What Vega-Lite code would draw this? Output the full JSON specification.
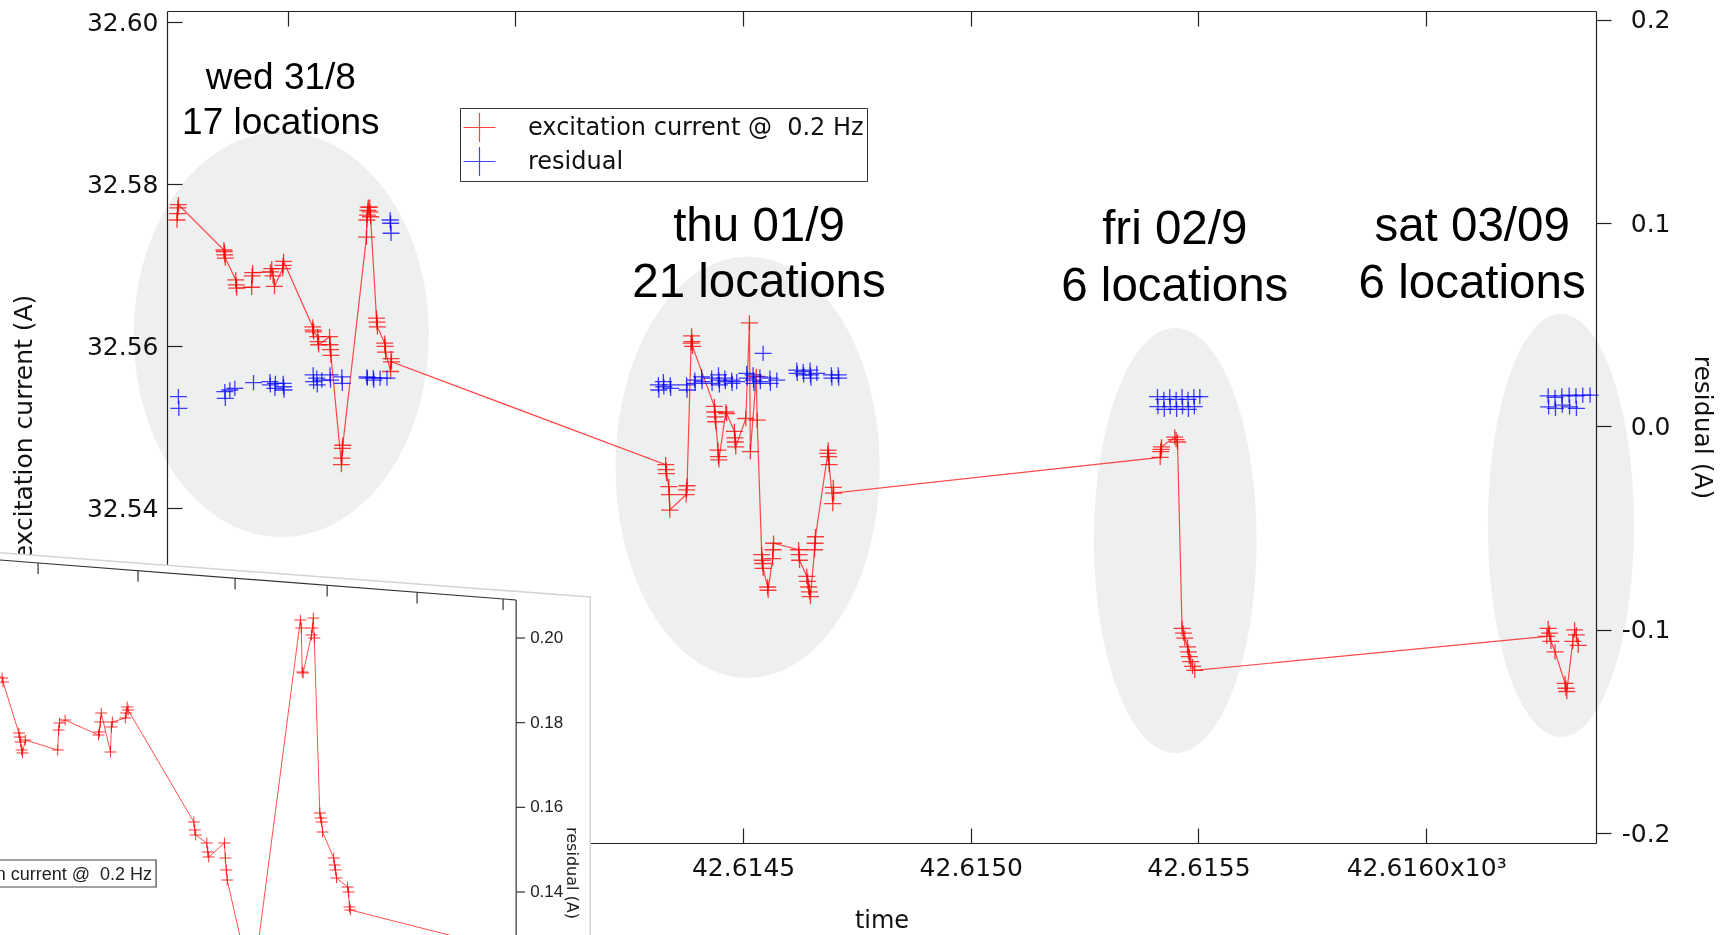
{
  "$schema": "https://vega.github.io/schema/vega-lite/v6.json",
  "width": 1429,
  "height": 832,
  "autosize": {"type": "none"},
  "padding": {"left": 167, "top": 11, "right": 124, "bottom": 92},
  "background": "white",
  "config": {
    "view": {"stroke": null},
    "axis": {"grid": false, "domainColor": "#222", "tickColor": "#222", "domainWidth": 1.2, "tickWidth": 1.2, "labelColor": "#111", "titleColor": "#111", "labelFont": "DejaVu Sans", "titleFont": "DejaVu Sans", "labelFontSize": 25, "titleFontSize": 25, "titleFontWeight": "normal", "labelOverlap": false, "labelFlush": false, "labelBound": false}
  },
  "datasets": {
    "ell": [
      {"t": 42.613486, "cur": 32.56147, "day": "wed"},
      {"t": 42.614510, "cur": 32.54507, "day": "thu"},
      {"t": 42.615449, "cur": 32.53604, "day": "fri"},
      {"t": 42.616296, "cur": 32.53789, "day": "sat"}
    ],
    "notes": [
      {"t": 42.613485, "cur": 32.59312, "txt": "wed 31/8", "day": "wed"},
      {"t": 42.613485, "cur": 32.58757, "txt": "17 locations", "day": "wed"},
      {"t": 42.614535, "cur": 32.57477, "txt": "thu 01/9", "day": "thu"},
      {"t": 42.614535, "cur": 32.56779, "txt": "21 locations", "day": "thu"},
      {"t": 42.615448, "cur": 32.57440, "txt": "fri 02/9", "day": "fri"},
      {"t": 42.615448, "cur": 32.56730, "txt": "6 locations", "day": "fri"},
      {"t": 42.616101, "cur": 32.57477, "txt": "sat 03/09", "day": "sat"},
      {"t": 42.616101, "cur": 32.56773, "txt": "6 locations", "day": "sat"}
    ],
    "red": [
      {"t":42.613257,"cur":32.5756},{"t":42.613258,"cur":32.5764},{"t":42.613259,"cur":32.5771},{"t":42.613260,"cur":32.5775},
      {"t":42.613360,"cur":32.5719},{"t":42.613361,"cur":32.5717},{"t":42.613362,"cur":32.5713},{"t":42.613363,"cur":32.5709},
      {"t":42.613386,"cur":32.5682},{"t":42.613387,"cur":32.5676},{"t":42.613388,"cur":32.5672},
      {"t":42.613421,"cur":32.5673},{"t":42.613422,"cur":32.5687},{"t":42.613423,"cur":32.5691},
      {"t":42.613462,"cur":32.5692},{"t":42.613465,"cur":32.5696},{"t":42.613468,"cur":32.5687},{"t":42.613471,"cur":32.5674},
      {"t":42.613489,"cur":32.5696},{"t":42.613490,"cur":32.5700},{"t":42.613491,"cur":32.5705},
      {"t":42.613555,"cur":32.5624},{"t":42.613556,"cur":32.5620},{"t":42.613557,"cur":32.5618},
      {"t":42.613566,"cur":32.5612},{"t":42.613567,"cur":32.5606},{"t":42.613568,"cur":32.5602},
      {"t":42.613592,"cur":32.5612},{"t":42.613593,"cur":32.5602},{"t":42.613594,"cur":32.5596},{"t":42.613595,"cur":32.5589},
      {"t":42.613618,"cur":32.5454},{"t":42.613619,"cur":32.5462},{"t":42.613620,"cur":32.5474},{"t":42.613621,"cur":32.5478},
      {"t":42.613673,"cur":32.5735},{"t":42.613674,"cur":32.5756},{"t":42.613675,"cur":32.5762},{"t":42.613676,"cur":32.5768},{"t":42.613677,"cur":32.5772},
      {"t":42.613680,"cur":32.5772},{"t":42.613681,"cur":32.5766},{"t":42.613682,"cur":32.5760},
      {"t":42.613695,"cur":32.5635},{"t":42.613696,"cur":32.5630},{"t":42.613697,"cur":32.5624},
      {"t":42.613713,"cur":32.5604},{"t":42.613714,"cur":32.5600},{"t":42.613715,"cur":32.5593},
      {"t":42.613726,"cur":32.5569},{"t":42.613727,"cur":32.5585},{"t":42.613728,"cur":32.5581},
      {"t":42.614330,"cur":32.5454},{"t":42.614331,"cur":32.5448},{"t":42.614332,"cur":32.5443},
      {"t":42.614337,"cur":32.5427},{"t":42.614338,"cur":32.5417},{"t":42.614339,"cur":32.5398},
      {"t":42.614375,"cur":32.5417},{"t":42.614376,"cur":32.5423},{"t":42.614377,"cur":32.5428},
      {"t":42.614386,"cur":32.5604},{"t":42.614387,"cur":32.5613},{"t":42.614388,"cur":32.5606},{"t":42.614389,"cur":32.5600},
      {"t":42.614437,"cur":32.5526},{"t":42.614438,"cur":32.5519},{"t":42.614439,"cur":32.5513},{"t":42.614440,"cur":32.5507},
      {"t":42.614445,"cur":32.5472},{"t":42.614446,"cur":32.5464},{"t":42.614447,"cur":32.5460},
      {"t":42.614462,"cur":32.5519},{"t":42.614464,"cur":32.5517},
      {"t":42.614481,"cur":32.5495},{"t":42.614482,"cur":32.5487},{"t":42.614483,"cur":32.5482},{"t":42.614484,"cur":32.5476},
      {"t":42.614506,"cur":32.5511},{"t":42.614514,"cur":32.5629},{"t":42.614516,"cur":32.5470},
      {"t":42.614529,"cur":32.5563},{"t":42.614531,"cur":32.5509},
      {"t":42.614541,"cur":32.5343},{"t":42.614542,"cur":32.5336},{"t":42.614543,"cur":32.5332},{"t":42.614544,"cur":32.5326},
      {"t":42.614554,"cur":32.5303},{"t":42.614555,"cur":32.5299},
      {"t":42.614565,"cur":32.5338},{"t":42.614566,"cur":32.5349},{"t":42.614567,"cur":32.5357},
      {"t":42.614622,"cur":32.5349},{"t":42.614623,"cur":32.5343},{"t":42.614624,"cur":32.5336},
      {"t":42.614640,"cur":32.5316},{"t":42.614642,"cur":32.5310},{"t":42.614644,"cur":32.5303},{"t":42.614646,"cur":32.5297},{"t":42.614648,"cur":32.5291},
      {"t":42.614657,"cur":32.5349},{"t":42.614658,"cur":32.5357},{"t":42.614659,"cur":32.5365},
      {"t":42.614686,"cur":32.5468},{"t":42.614687,"cur":32.5472},{"t":42.614688,"cur":32.5464},{"t":42.614689,"cur":32.5454},
      {"t":42.614697,"cur":32.5406},{"t":42.614698,"cur":32.5426},{"t":42.614699,"cur":32.5419},
      {"t":42.615416,"cur":32.5463},{"t":42.615417,"cur":32.5470},{"t":42.615418,"cur":32.5473},{"t":42.615419,"cur":32.5476},
      {"t":42.615448,"cur":32.5488},{"t":42.615451,"cur":32.5485},{"t":42.615454,"cur":32.5482},
      {"t":42.615464,"cur":32.5252},{"t":42.615467,"cur":32.5246},{"t":42.615470,"cur":32.5240},
      {"t":42.615476,"cur":32.5229},{"t":42.615478,"cur":32.5223},{"t":42.615480,"cur":32.5217},
      {"t":42.615483,"cur":32.5211},{"t":42.615487,"cur":32.5205},{"t":42.615492,"cur":32.5200},
      {"t":42.616265,"cur":32.5242},{"t":42.616268,"cur":32.5252},{"t":42.616271,"cur":32.5246},{"t":42.616274,"cur":32.5236},
      {"t":42.616283,"cur":32.5223},
      {"t":42.616305,"cur":32.5184},{"t":42.616307,"cur":32.5178},{"t":42.616309,"cur":32.5174},
      {"t":42.616322,"cur":32.5236},{"t":42.616326,"cur":32.5250},{"t":42.616330,"cur":32.5244},{"t":42.616334,"cur":32.5231}
    ],
    "blue": [
      {"t":42.613260,"res":0.0146},{"t":42.613261,"res":0.0089},
      {"t":42.613362,"res":0.0171},{"t":42.613363,"res":0.0138},
      {"t":42.613373,"res":0.0179},{"t":42.613384,"res":0.0187},{"t":42.613425,"res":0.0215},
      {"t":42.613461,"res":0.0220},{"t":42.613462,"res":0.0204},
      {"t":42.613472,"res":0.0187},{"t":42.613473,"res":0.0212},
      {"t":42.613490,"res":0.0212},{"t":42.613491,"res":0.0195},{"t":42.613492,"res":0.0179},
      {"t":42.613556,"res":0.0253},{"t":42.613557,"res":0.0220},
      {"t":42.613564,"res":0.0237},{"t":42.613565,"res":0.0204},
      {"t":42.613575,"res":0.0228},
      {"t":42.613593,"res":0.0253},{"t":42.613594,"res":0.0228},
      {"t":42.613619,"res":0.0244},{"t":42.613620,"res":0.0212},
      {"t":42.613674,"res":0.0244},{"t":42.613675,"res":0.0237},
      {"t":42.613688,"res":0.0240},{"t":42.613689,"res":0.0228},
      {"t":42.613703,"res":0.0237},{"t":42.613718,"res":0.0237},
      {"t":42.613725,"res":0.1015},{"t":42.613726,"res":0.0999},{"t":42.613727,"res":0.0950},
      {"t":42.614314,"res":0.0204},{"t":42.614315,"res":0.0179},
      {"t":42.614325,"res":0.0220},{"t":42.614326,"res":0.0195},
      {"t":42.614340,"res":0.0204},{"t":42.614341,"res":0.0187},
      {"t":42.614376,"res":0.0204},{"t":42.614377,"res":0.0179},
      {"t":42.614394,"res":0.0228},{"t":42.614395,"res":0.0212},
      {"t":42.614409,"res":0.0244},{"t":42.614410,"res":0.0220},
      {"t":42.614431,"res":0.0237},{"t":42.614432,"res":0.0212},
      {"t":42.614446,"res":0.0253},{"t":42.614447,"res":0.0228},{"t":42.614448,"res":0.0204},
      {"t":42.614460,"res":0.0237},{"t":42.614461,"res":0.0220},
      {"t":42.614475,"res":0.0228},{"t":42.614476,"res":0.0212},
      {"t":42.614486,"res":0.0220},
      {"t":42.614508,"res":0.0261},{"t":42.614509,"res":0.0237},
      {"t":42.614522,"res":0.0253},{"t":42.614523,"res":0.0228},{"t":42.614524,"res":0.0212},
      {"t":42.614537,"res":0.0244},{"t":42.614538,"res":0.0220},
      {"t":42.614544,"res":0.0359},
      {"t":42.614559,"res":0.0237},{"t":42.614560,"res":0.0212},
      {"t":42.614574,"res":0.0228},
      {"t":42.614618,"res":0.0277},{"t":42.614619,"res":0.0261},
      {"t":42.614632,"res":0.0269},{"t":42.614633,"res":0.0253},
      {"t":42.614647,"res":0.0277},{"t":42.614648,"res":0.0253},{"t":42.614649,"res":0.0237},
      {"t":42.614662,"res":0.0261},
      {"t":42.614694,"res":0.0253},{"t":42.614695,"res":0.0237},
      {"t":42.614709,"res":0.0253},{"t":42.614710,"res":0.0237},
      {"t":42.615410,"res":0.0146},{"t":42.615411,"res":0.0097},
      {"t":42.615424,"res":0.0133},{"t":42.615425,"res":0.0084},
      {"t":42.615437,"res":0.0146},{"t":42.615438,"res":0.0097},
      {"t":42.615451,"res":0.0133},{"t":42.615452,"res":0.0084},
      {"t":42.615464,"res":0.0146},{"t":42.615465,"res":0.0097},
      {"t":42.615477,"res":0.0133},{"t":42.615478,"res":0.0084},
      {"t":42.615490,"res":0.0146},{"t":42.615491,"res":0.0097},
      {"t":42.615503,"res":0.0146},
      {"t":42.616268,"res":0.0150},{"t":42.616269,"res":0.0096},
      {"t":42.616283,"res":0.0143},{"t":42.616284,"res":0.0089},
      {"t":42.616298,"res":0.0150},{"t":42.616299,"res":0.0105},
      {"t":42.616314,"res":0.0154},{"t":42.616315,"res":0.0096},
      {"t":42.616329,"res":0.0150},{"t":42.616330,"res":0.0089},
      {"t":42.616344,"res":0.0154},{"t":42.616360,"res":0.0154}
    ],
    "insRed": [
      {"u":42.613323,"r":0.19717},
      {"u":42.613358,"r":0.19055},{"u":42.613359,"r":0.18961},
      {"u":42.613376,"r":0.17756},{"u":42.613377,"r":0.17661},{"u":42.613378,"r":0.17543},{"u":42.613379,"r":0.17354},{"u":42.613380,"r":0.17284},
      {"u":42.613383,"r":0.17590},
      {"u":42.613418,"r":0.17354},{"u":42.613419,"r":0.17827},{"u":42.613420,"r":0.17992},
      {"u":42.613426,"r":0.18063},
      {"u":42.613462,"r":0.17709},{"u":42.613463,"r":0.17780},{"u":42.613464,"r":0.18016},{"u":42.613465,"r":0.18228},
      {"u":42.613475,"r":0.17307},{"u":42.613476,"r":0.17898},{"u":42.613477,"r":0.18016},
      {"u":42.613491,"r":0.18110},{"u":42.613492,"r":0.18228},{"u":42.613493,"r":0.18370},{"u":42.613494,"r":0.18299},
      {"u":42.613565,"r":0.15654},{"u":42.613566,"r":0.15465},{"u":42.613567,"r":0.15346},
      {"u":42.613579,"r":0.15157},{"u":42.613580,"r":0.14945},{"u":42.613581,"r":0.14827},
      {"u":42.613598,"r":0.15157},{"u":42.613599,"r":0.14803},{"u":42.613600,"r":0.14520},{"u":42.613601,"r":0.14283},
      {"u":42.613628,"r":0.11685},
      {"u":42.613680,"r":0.20425},{"u":42.613681,"r":0.20236},{"u":42.613682,"r":0.19197},{"u":42.613683,"r":0.19173},
      {"u":42.613692,"r":0.20071},{"u":42.613693,"r":0.20236},{"u":42.613694,"r":0.20472},{"u":42.613695,"r":0.20000},
      {"u":42.613701,"r":0.15866},{"u":42.613702,"r":0.15748},{"u":42.613703,"r":0.15654},{"u":42.613704,"r":0.15417},
      {"u":42.613716,"r":0.14803},{"u":42.613717,"r":0.14638},{"u":42.613718,"r":0.14520},{"u":42.613719,"r":0.14331},
      {"u":42.613731,"r":0.14118},{"u":42.613732,"r":0.14000},{"u":42.613733,"r":0.13646},{"u":42.613734,"r":0.13575},
      {"u":42.613917,"r":0.12559}
    ],
    "insArea": [
      {"u": 42.613345, "rt": 0.22031, "rb": 0.12394},
      {"u": 42.613993, "rt": 0.20969, "rb": 0.12394}
    ],
    "insRules": [
      {"u": 42.613345, "r": 0.21861, "u2": 42.613913, "r2": 0.20898},
      {"u": 42.613913, "r": 0.20898, "u2": 42.613913, "r2": 0.12394},
      {"u": 42.6133968, "r": 0.21772, "u2": 42.6133968, "r2": 0.21512},
      {"u": 42.6135047, "r": 0.21590, "u2": 42.6135047, "r2": 0.21330},
      {"u": 42.6136095, "r": 0.21410, "u2": 42.6136095, "r2": 0.21150},
      {"u": 42.6137089, "r": 0.21243, "u2": 42.6137089, "r2": 0.20983},
      {"u": 42.6138060, "r": 0.21077, "u2": 42.6138060, "r2": 0.20817},
      {"u": 42.6138989, "r": 0.20919, "u2": 42.6138989, "r2": 0.20659},
      {"u": 42.613913, "r": 0.20, "u2": 42.6139227, "r2": 0.20},
      {"u": 42.613913, "r": 0.18, "u2": 42.6139227, "r2": 0.18},
      {"u": 42.613913, "r": 0.16, "u2": 42.6139227, "r2": 0.16},
      {"u": 42.613913, "r": 0.14, "u2": 42.6139227, "r2": 0.14}
    ],
    "insLabels": [
      {"u": 42.6139281, "r": 0.20, "txt": "0.20"},
      {"u": 42.6139281, "r": 0.18, "txt": "0.18"},
      {"u": 42.6139281, "r": 0.16, "txt": "0.16"},
      {"u": 42.6139281, "r": 0.14, "txt": "0.14"}
    ],
    "insTitle": [{"u": 42.6139735, "r": 0.14449, "txt": "residual (A)"}],
    "insBox": [{"u": 42.613345, "u2": 42.6135242, "r": 0.14756, "r2": 0.14118}],
    "insLeg": [{"u": 42.6135199, "r": 0.14402, "txt": "excitation current @\u00a0 0.2 Hz"}]
  },
  "layer": [
    {
      "encoding": {
        "x": {"field": "t", "type": "quantitative", "scale": {"domain": [42.613235, 42.616373], "nice": false, "zero": false},
          "axis": {"orient": "bottom", "values": [42.6135, 42.614, 42.6145, 42.615, 42.6155, 42.616], "format": ".4f",
            "labelExpr": "datum.value > 42.6159 ? datum.label + 'x10³' : datum.label",
            "tickSize": -15, "labelPadding": 27, "title": "time", "titleFontSize": 24, "titlePadding": 28}}
      },
      "layer": [
        {
          "encoding": {
            "y": {"field": "cur", "type": "quantitative", "scale": {"domain": [32.4987, 32.6014], "nice": false, "zero": false},
              "axis": {"orient": "left", "values": [32.50, 32.52, 32.54, 32.56, 32.58, 32.60], "format": ".2f", "tickSize": -15, "labelPadding": 24, "title": "excitation current (A)", "titlePadding": 50}}
          },
          "layer": [
            {
              "data": {"name": "ell"},
              "mark": {"type": "point", "filled": true, "fill": "#eeefef", "opacity": 1, "size": 4, "strokeWidth": 0, "blend": "multiply"},
              "encoding": {
                "shape": {"field": "day", "type": "nominal", "legend": null,
                  "scale": {"domain": ["wed", "thu", "fri", "sat"],
                    "range": [
                      "M0,-202.5A147.5,202.5 0 1,1 0,202.5A147.5,202.5 0 1,1 0,-202.5Z",
                      "M0,-210.5A132,210.5 0 1,1 0,210.5A132,210.5 0 1,1 0,-210.5Z",
                      "M0,-212.5A81.3,212.5 0 1,1 0,212.5A81.3,212.5 0 1,1 0,-212.5Z",
                      "M0,-211.5A73,211.5 0 1,1 0,211.5A73,211.5 0 1,1 0,-211.5Z"
                    ]}}
              }
            },
            {
              "data": {"name": "red"},
              "mark": {"type": "line", "color": "#ff2a2a", "strokeWidth": 1.2, "opacity": 0.85}
            },
            {
              "data": {"name": "red"},
              "mark": {"type": "point", "shape": "M-1,0H1M0,-0.9V0.9", "filled": false, "size": 289, "strokeWidth": 1.3, "opacity": 0.75},
              "encoding": {
                "color": {"datum": "excitation current @\u00a0 0.2 Hz",
                  "scale": {"domain": ["excitation current @\u00a0 0.2 Hz", "residual"], "range": ["#ff0000", "#0000ff"]},
                  "legend": {"orient": "none", "legendX": 293, "legendY": 97, "title": null,
                    "fillColor": "white", "strokeColor": "#333", "cornerRadius": 0, "padding": 2.5,
                    "labelFont": "DejaVu Sans", "labelFontSize": 24, "labelColor": "#111", "labelOffset": 31.5, "labelLimit": 0,
                    "symbolSize": 1024, "symbolStrokeWidth": 1.2, "rowPadding": 0,
                    "encode": {"symbols": {
                      "shape": {"value": {"expr": "datum.value === 'residual' ? 'M-1,0L-1,0M1,0L1,0M-0.53,0H0.53M0,-0.53V0.53' : 'M-1,0H1M0,-0.47V0.47'"}},
                      "size": {"value": 1024}, "opacity": {"value": 1}, "strokeWidth": {"value": 1.2}}}}}
              }
            },
            {
              "data": {"name": "notes"},
              "transform": [{"filter": "datum.day === 'wed'"}],
              "mark": {"type": "text", "font": "Liberation Sans", "fontSize": 37, "align": "center", "baseline": "middle", "color": "black"},
              "encoding": {"text": {"field": "txt"}}
            },
            {
              "data": {"name": "notes"},
              "transform": [{"filter": "datum.day !== 'wed'"}],
              "mark": {"type": "text", "font": "Liberation Sans", "fontSize": 47.5, "align": "center", "baseline": "middle", "color": "black"},
              "encoding": {"text": {"field": "txt"}}
            }
          ]
        },
        {
          "data": {"name": "blue"},
          "mark": {"type": "point", "shape": "M-1,0H1M0,-0.9V0.9", "filled": false, "size": 289, "strokeWidth": 1.3, "opacity": 0.75},
          "encoding": {
            "y": {"field": "res", "type": "quantitative", "scale": {"domain": [-0.2049, 0.2043], "nice": false, "zero": false},
              "axis": {"orient": "right", "values": [-0.2, -0.1, 0, 0.1, 0.2], "format": ".1f", "labelExpr": "replace(datum.label, '−', '-')",
                "tickSize": 15, "labelPadding": 59, "labelAlign": "right", "title": "residual (A)", "titlePadding": 19}},
            "color": {"datum": "residual"}
          }
        }
      ],
      "resolve": {"scale": {"y": "independent"}}
    },
    {
      "data": {"name": "red"},
      "mark": {"type": "point", "opacity": 0},
      "encoding": {
        "x": {"field": "t", "type": "quantitative", "scale": {"domain": [42.613235, 42.616373], "nice": false, "zero": false},
          "axis": {"orient": "top", "values": [42.6135, 42.614, 42.6145, 42.615, 42.6155, 42.616], "labels": false, "tickSize": -15, "title": null}}
      }
    },
    {
      "encoding": {
        "x": {"field": "u", "type": "quantitative", "scale": {"domain": [42.613536, 42.615079], "nice": false, "zero": false}, "axis": null}
      },
      "layer": [
        {
          "data": {"name": "insArea"},
          "mark": {"type": "area", "fill": "white", "stroke": "#d4d4d4", "strokeWidth": 1.5, "opacity": 1},
          "encoding": {
            "y": {"field": "rt", "type": "quantitative", "scale": {"domain": [0.151575, 0.34811], "nice": false, "zero": false}, "axis": null},
            "y2": {"field": "rb"}
          }
        },
        {
          "data": {"name": "insRules"},
          "mark": {"type": "rule", "color": "#333", "strokeWidth": 1.2},
          "encoding": {
            "y": {"field": "r", "type": "quantitative", "scale": {"domain": [0.151575, 0.34811], "nice": false, "zero": false}, "axis": null},
            "y2": {"field": "r2"},
            "x2": {"field": "u2"}
          }
        },
        {
          "data": {"name": "insRed"},
          "mark": {"type": "line", "color": "#ff3030", "strokeWidth": 1, "opacity": 0.85},
          "encoding": {
            "y": {"field": "r", "type": "quantitative", "scale": {"domain": [0.151575, 0.34811], "nice": false, "zero": false}, "axis": null}
          }
        },
        {
          "data": {"name": "insRed"},
          "mark": {"type": "point", "shape": "M-1,0H1M0,-0.9V0.9", "filled": false, "size": 144, "strokeWidth": 1, "opacity": 0.8, "color": "#ff0000"},
          "encoding": {
            "y": {"field": "r", "type": "quantitative", "scale": {"domain": [0.151575, 0.34811], "nice": false, "zero": false}, "axis": null}
          }
        },
        {
          "data": {"name": "insLabels"},
          "mark": {"type": "text", "font": "Liberation Sans", "fontSize": 17, "align": "left", "baseline": "middle", "color": "#222"},
          "encoding": {
            "y": {"field": "r", "type": "quantitative", "scale": {"domain": [0.151575, 0.34811], "nice": false, "zero": false}, "axis": null},
            "text": {"field": "txt"}
          }
        },
        {
          "data": {"name": "insTitle"},
          "mark": {"type": "text", "font": "DejaVu Sans", "fontSize": 16, "angle": 90, "align": "center", "baseline": "middle", "color": "#222"},
          "encoding": {
            "y": {"field": "r", "type": "quantitative", "scale": {"domain": [0.151575, 0.34811], "nice": false, "zero": false}, "axis": null},
            "text": {"field": "txt"}
          }
        },
        {
          "data": {"name": "insBox"},
          "mark": {"type": "rect", "fill": "white", "stroke": "#444", "strokeWidth": 1.2},
          "encoding": {
            "y": {"field": "r", "type": "quantitative", "scale": {"domain": [0.151575, 0.34811], "nice": false, "zero": false}, "axis": null},
            "y2": {"field": "r2"},
            "x2": {"field": "u2"}
          }
        },
        {
          "data": {"name": "insLeg"},
          "mark": {"type": "text", "font": "Liberation Sans", "fontSize": 18, "align": "right", "baseline": "middle", "color": "#222"},
          "encoding": {
            "y": {"field": "r", "type": "quantitative", "scale": {"domain": [0.151575, 0.34811], "nice": false, "zero": false}, "axis": null},
            "text": {"field": "txt"}
          }
        }
      ]
    }
  ],
  "resolve": {"scale": {"x": "independent", "y": "independent"}}
}
